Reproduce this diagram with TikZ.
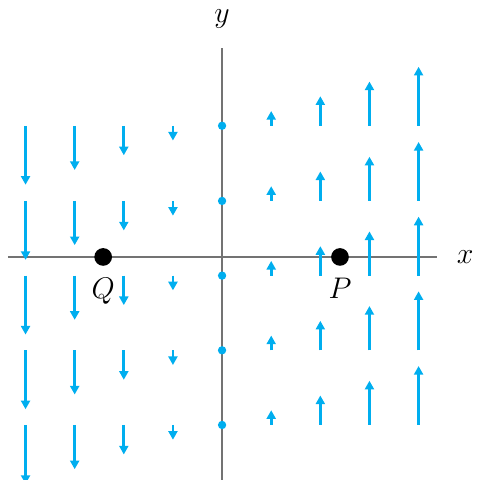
\documentclass[tikz,border=0pt]{standalone}
\usepackage{xcolor}
\usepackage{tikz}
\usetikzlibrary{arrows.meta, positioning}
\definecolor{fieldblue}{RGB}{0,174,239}
\definecolor{axisgray}{RGB}{115,115,115}
\tikzset{
  axisline/.style={draw=axisgray, line width=0.8pt},
  vec/.style={-{Triangle[length=5pt,width=5.2pt]}, line width=1.6pt, color=fieldblue},
  zerodot/.style={circle, fill=fieldblue, inner sep=0pt, minimum size=0.17cm},
  bigdot/.style={circle, fill=black, inner sep=0pt, minimum size=0.36cm},
  lbl/.style={font=\fontsize{18}{20}\selectfont}
}
\begin{document}
\begin{tikzpicture}
  \useasboundingbox (-4.52,-4.54) rectangle (5.19,5.23);

  % Axes
  \coordinate (xl) at (-4.36,0);
  \coordinate (xr) at (4.38,0);
  \coordinate (yb) at (0,-4.54);
  \coordinate (yt) at (0,4.25);
  \draw[axisline] (xl) -- (xr);
  \draw[axisline] (yb) -- (yt);
  \node[lbl] (xlabel) at (4.95,0) {$x$};
  \node[lbl] (ylabel) at (0,4.85) {$y$};

  % Vector field (0, x)
  \foreach \y in {2.67,1.14,-0.38,-1.90,-3.42} {
    \foreach \x in {-4,-3,-2,-1,1,2,3,4} {
      \draw[vec] (\x,\y) -- ++(0,0.3*\x);
    }
    \node[zerodot] at (0,\y) {};
  }

  % Points
  \node[bigdot] (P) at (2.4,0) {};
  \node[bigdot] (Q) at (-2.42,0) {};
  \node[lbl, below=3.5pt of P] (Plabel) {$P$};
  \node[lbl, below=3.5pt of Q] (Qlabel) {$Q$};
\end{tikzpicture}
\end{document}
